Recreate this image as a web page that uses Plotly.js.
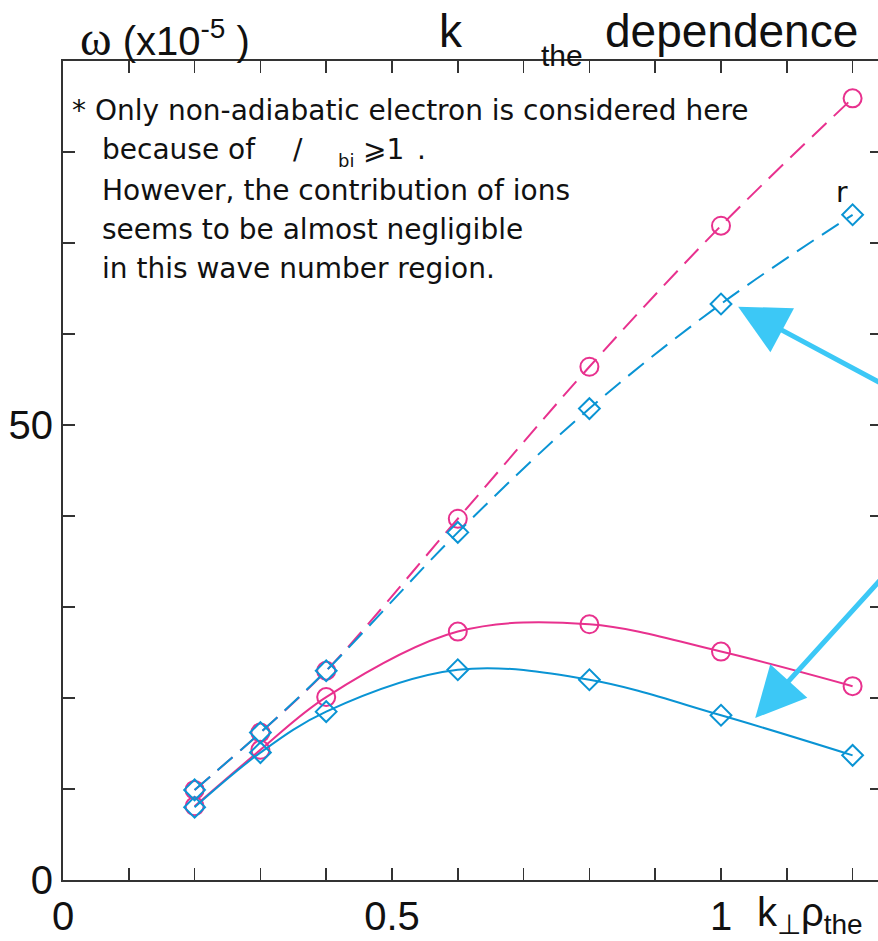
<!DOCTYPE html>
<html>
<head>
<meta charset="utf-8">
<script src="https://cdn.plot.ly/plotly-3.0.1.min.js"></script>
<style>
html,body{margin:0;padding:0;overflow:hidden;background:#fff;}
#chart{width:882px;height:941px;}
</style>
</head>
<body>
<div id="chart"></div>
<script>
// ---- data ----
const kRho = [0.2, 0.3, 0.4, 0.6, 0.8, 1.0, 1.2];
const omegaPinkDashed = [9.9, 16.2, 23.0, 39.7, 56.4, 71.9, 85.9];
const omegaBlueDashed = [9.9, 16.2, 23.0, 38.2, 51.8, 63.3, 73.1];
const omegaPinkSolid  = [8.1, 14.3, 20.1, 27.3, 28.1, 25.1, 21.3];
const omegaBlueSolid  = [8.0, 14.0, 18.5, 23.1, 22.0, 18.1, 13.7];

const xTickVals   = [0, 0.1, 0.2, 0.3, 0.4, 0.5, 0.6, 0.7, 0.8, 0.9, 1.0, 1.1, 1.2];
const xTickLabels = ['0', '', '', '', '', '0.5', '', '', '', '', '1', '', ''];
const yTickVals   = [0, 10, 20, 30, 40, 50, 60, 70, 80];
const yTickLabels = ['0', '', '', '', '', '50', '', '', ''];

const noteLines = [
  '* Only non-adiabatic electron is considered here',
  'because of',
  'However, the contribution of ions',
  'seems to be almost negligible',
  'in this wave number region.'
];
const noteLine2Parts = ['/', 'bi', '⩾1', '.'];

// ---- styling ----
const PINK = '#E8318E';
const BLUE = '#0A94D4';
const ARROW = '#3CC8F6';
const AX = '#333333';
const W = 882, H = 941, L = 63, T = 61, B = 61;
const plotW = W - L, plotH = H - T - B;
const px = p => (p - L) / plotW;          // pixel -> paper x
const py = p => (H - B - p) / plotH;      // pixel -> paper y

function trace(y, color, dash, symbol, size) {
  return {
    x: kRho, y: y, type: 'scatter', mode: 'lines+markers',
    line: {color: color, width: 2, dash: dash, shape: 'spline', smoothing: 1},
    marker: {symbol: symbol, size: size, color: color, line: {color: color, width: 2}},
    hoverinfo: 'skip', showlegend: false, cliponaxis: false
  };
}

const data = [
  trace(omegaPinkSolid, PINK, 'solid', 'circle-open', 18),
  trace(omegaBlueSolid, BLUE, 'solid', 'diamond-open', 16),
  trace(omegaPinkDashed, PINK, '20px,10px', 'circle-open', 18),
  trace(omegaBlueDashed, BLUE, '20px,10px', 'diamond-open', 16)
];

const sans = 'Liberation Sans, Arial, sans-serif';
const noteFont = {family: 'DejaVu Sans, Verdana, sans-serif', size: 28, color: '#111'};

const annotations = [];
function txt(x, y, text, font, xanchor) {
  annotations.push({xref: 'paper', yref: 'paper', x: px(x), y: py(y), xanchor: xanchor || 'left', yanchor: 'middle',
    text: text, showarrow: false, font: font});
}
// note text
txt(70, 110, noteLines[0], noteFont);
const noteY = [150, 190, 229, 268];
for (let i = 1; i < noteLines.length; i++) txt(100, noteY[i - 1], noteLines[i], noteFont);
txt(291, 150, noteLine2Parts[0], noteFont);
txt(336, 160, noteLine2Parts[1], Object.assign({}, noteFont, {size: 18}));
txt(361, 150, noteLine2Parts[2], noteFont);
txt(415, 150, noteLine2Parts[3], noteFont);
// stray label
txt(842, 192, 'r', noteFont, 'center');
// title pieces
txt(437, 31, 'k', {family: sans, size: 46, color: '#111'});
txt(539, 55, 'the', {family: sans, size: 30, color: '#111'});
txt(603, 31, 'dependence', {family: sans, size: 46, color: '#111'});
// y-axis title
txt(78, 38, '<span style="font-family:Liberation Serif, serif;font-size:48px">ω</span> (x10<sup>-5</sup> )', {family: sans, size: 40, color: '#111'});
// x-axis title
txt(755, 915, 'k<sub>⊥</sub>ρ<sub>the</sub>', {family: sans, size: 40, color: '#111'});
// arrows
annotations.push({xref: 'x', yref: 'y', x: 1.026, y: 63.0, ax: 155, ay: 77, axref: 'pixel', ayref: 'pixel',
  text: '', showarrow: true, arrowhead: 2, arrowsize: 2.0, arrowwidth: 5, arrowcolor: ARROW});
annotations.push({xref: 'x', yref: 'y', x: 1.052, y: 17.8, ax: 140, ay: -140, axref: 'pixel', ayref: 'pixel',
  text: '', showarrow: true, arrowhead: 2, arrowsize: 2.0, arrowwidth: 5, arrowcolor: ARROW});

const layout = {
  width: W, height: H,
  margin: {l: L, r: 0, t: T, b: B, pad: 0},
  paper_bgcolor: '#fff', plot_bgcolor: '#fff',
  showlegend: false,
  xaxis: {
    range: [0, plotW / 658], showgrid: false, zeroline: false,
    showline: true, linecolor: AX, linewidth: 2, mirror: 'ticks',
    ticks: 'inside', ticklen: 12, tickwidth: 1.5, tickcolor: AX,
    tickmode: 'array', tickvals: xTickVals, ticktext: xTickLabels,
    tickfont: {family: sans, size: 40, color: '#111'}
  },
  yaxis: {
    range: [0, 90], showgrid: false, zeroline: false,
    showline: true, linecolor: AX, linewidth: 2, mirror: 'ticks',
    ticks: 'inside', ticklen: 12, tickwidth: 1.5, tickcolor: AX,
    tickmode: 'array', tickvals: yTickVals, ticktext: yTickLabels,
    tickfont: {family: sans, size: 40, color: '#111'}
  },
  annotations: annotations
};

Plotly.newPlot('chart', data, layout, {staticPlot: true, displayModeBar: false});
</script>
</body>
</html>
